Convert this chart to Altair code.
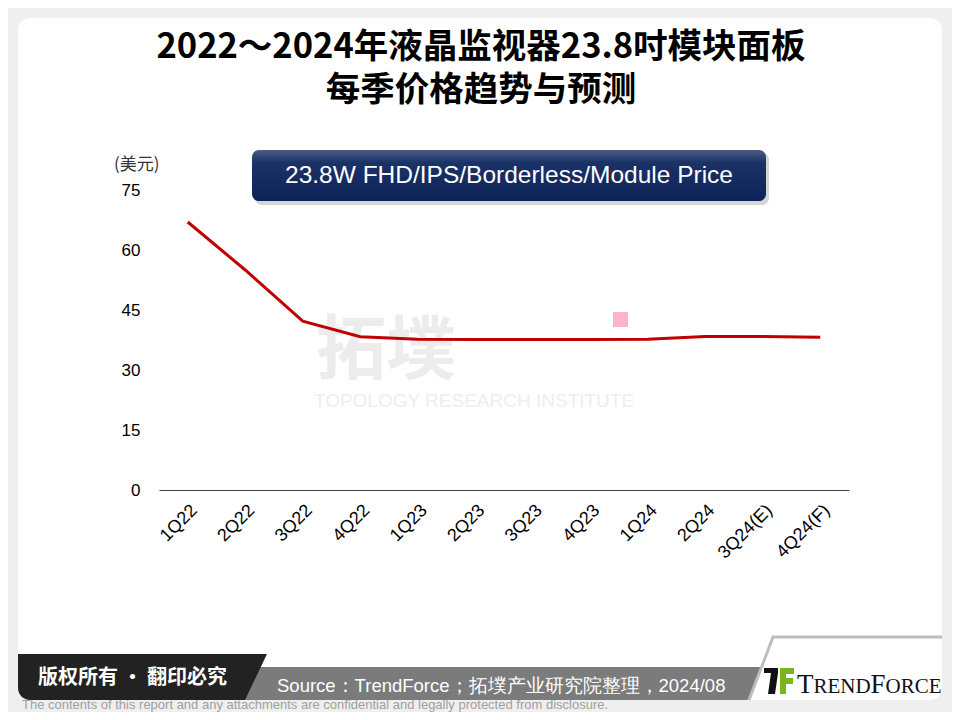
import math
import altair as alt
import pandas as pd

# ---------------- data ----------------
quarters = ["1Q22", "2Q22", "3Q22", "4Q22", "1Q23", "2Q23", "3Q23", "4Q23",
            "1Q24", "2Q24", "3Q24(E)", "4Q24(F)"]
prices = [67.0, 55.0, 42.2, 38.3, 37.7, 37.6, 37.6, 37.6, 37.7, 38.4, 38.4, 38.2]
y_ticks = [0, 15, 30, 45, 60, 75]

title_lines = ["2022～2024年液晶监视器23.8吋模块面板", "每季价格趋势与预测"]
series_label = "23.8W FHD/IPS/Borderless/Module Price"
unit_label = "(美元)"
copyright_text = "版权所有 · 翻印必究"
source_text = "Source：TrendForce；拓墣产业研究院整理，2024/08"
disclaimer = "The contents of this report and any attachments are confidential and legally protected from disclosure."
wm_cn = "拓墣"
wm_en = "TOPOLOGY RESEARCH INSTITUTE"

df = pd.DataFrame({"quarter": quarters, "price": prices})

# ---------------- geometry (page px) ----------------
PL, PT, W, H = 159, 190, 690, 300
one = pd.DataFrame({"k": [0]})


def px(x):
    return x - PL


def py(y):
    return y - PT


def rect(x1, y1, x2, y2, **kw):
    return alt.Chart(one).mark_rect(**kw).encode(
        x=alt.value(px(x1)), x2=alt.value(px(x2)),
        y=alt.value(py(y1)), y2=alt.value(py(y2)))


def text(s, x, y, **kw):
    return alt.Chart(one).mark_text(text=s, **kw).encode(
        x=alt.value(px(x)), y=alt.value(py(y)))


def poly(points, color, closed=True, filled=True, sw=0):
    xs = [p[0] for p in points]
    ys = [p[1] for p in points]
    cx = (min(xs) + max(xs)) / 2
    cy = (min(ys) + max(ys)) / 2
    s = max(max(xs) - min(xs), max(ys) - min(ys)) / 2 + 1
    path = "M" + " L".join(f"{(x - cx) / s:.4f},{(y - cy) / s:.4f}" for x, y in points)
    if closed:
        path += " Z"
    kw = dict(shape=path, size=(2 * s) ** 2, opacity=1, filled=filled, color=color)
    if filled:
        kw["strokeWidth"] = 0
    else:
        kw["strokeWidth"] = sw
    return alt.Chart(one).mark_point(**kw).encode(
        x=alt.value(px(cx)), y=alt.value(py(cy)))


# card
card = rect(18, 18, 942, 700, color="white", cornerRadius=12)

# footer grey band
band = poly([(235, 667), (762, 667), (749, 700), (228, 700)], "#7b7b7b")

# dark copyright box with rounded bottom-left corner
dark_pts = [(18, 654), (267, 654), (245, 700), (30, 700)]
for i in range(1, 8):
    a = math.pi / 2 + i * (math.pi / 2) / 8
    dark_pts.append((30 + 12 * math.cos(a), 688 + 12 * math.sin(a)))
dark_pts.append((18, 688))
dark = poly(dark_pts, "#222222")

# logo frame line
frame = poly([(749, 700), (773, 637), (942, 637)], "#bdbdbd", closed=False, filled=False, sw=3)

copy_txt = text(copyright_text, 38, 678, color="white", fontSize=20, font="Noto Sans CJK SC",
                fontWeight="bold", align="left", baseline="middle")
src_txt = text(source_text, 277, 686, color="white", fontSize=18.5, font="Liberation Sans",
               align="left", baseline="middle")
disc_txt = text(disclaimer, 22, 708.5, color="#a0a0a0", fontSize=13, font="Liberation Sans",
                align="left", baseline="alphabetic")

# logo icon
green = "#7ab51d"
logo = [
    rect(764, 668, 778, 673, color="#111111"),
    poly([(771, 673), (778, 673), (775, 694), (768, 694)], "#111111"),
    rect(780, 668, 794, 674, color=green),
    rect(780, 678, 793, 684, color=green),
    rect(780, 668, 786, 694, color=green),
]
serif = "Liberation Serif"
logo_txt = [
    text("T", 797, 693, font=serif, fontSize=27, color="#111111", align="left", baseline="alphabetic"),
    text("REND", 813.5, 693, font=serif, fontSize=21, color="#111111", align="left", baseline="alphabetic"),
    text("F", 870.5, 693, font=serif, fontSize=27, color="#111111", align="left", baseline="alphabetic"),
    text("ORCE", 885.5, 693, font=serif, fontSize=21, color="#111111", align="left", baseline="alphabetic"),
]

# watermark
wm1 = text(wm_cn, 386, 353, font="Noto Sans CJK SC", fontWeight="bold", fontSize=70,
           color="#ececec", align="center", baseline="middle")
wm2 = text(wm_en, 474, 401, font="Liberation Sans", fontSize=19, color="#eeeeee",
           align="center", baseline="middle")
pink = rect(613, 312, 628, 327, color="#ffb3c8")

# title (one two-line text; first line placed at y)
title = text(title_lines, 481, 48, font="Noto Sans CJK SC", fontWeight="bold", fontSize=34.5,
             lineHeight=43, color="black", align="center", baseline="middle")

# legend box
grad = alt.LinearGradient(
    gradient="linear", x1=0, x2=0, y1=0, y2=1,
    stops=[alt.GradientStop(color="#4a5c85", offset=0),
           alt.GradientStop(color="#1b3266", offset=0.25),
           alt.GradientStop(color="#0e2358", offset=1)])
leg_shadow = rect(255, 153, 769, 205, color="#888888", opacity=0.35, cornerRadius=7)
leg_box = rect(252, 150, 766, 201, color=grad, cornerRadius=7)
leg_txt = text(series_label, 509, 176, font="Liberation Sans", fontSize=24.5, color="white",
               align="center", baseline="middle")

unit = text(unit_label, 114, 165, font="Noto Sans CJK SC", fontSize=17, color="#333333",
            align="left", baseline="middle")

# data line
line = alt.Chart(df).mark_line(color="#c00000", strokeWidth=3).encode(
    x=alt.X("quarter:N", sort=quarters, title=None,
            axis=alt.Axis(labelAngle=-45, labelAlign="right", labelBaseline="top",
                          labelFontSize=18, labelFont="Liberation Sans", labelColor="black",
                          ticks=False, domain=True, domainColor="#404040", domainWidth=1,
                          labelPadding=11, grid=False, zindex=1)),
    y=alt.Y("price:Q", scale=alt.Scale(domain=[0, 75], nice=False), title=None,
            axis=alt.Axis(values=y_ticks, domain=False, ticks=False, grid=False,
                          labelFontSize=17, labelFont="Liberation Sans", labelColor="black",
                          labelPadding=19, zindex=1)),
)

chart = alt.layer(
    card, band, dark, frame, copy_txt, src_txt, disc_txt, *logo, *logo_txt,
    wm1, wm2, pink, title, leg_shadow, leg_box, leg_txt, unit, line
).properties(
    width=W, height=H,
    autosize=alt.AutoSizeParams(type="none"),
    padding={"left": 151, "top": 182, "right": 103, "bottom": 222},
    background="#efefef",
).configure_view(stroke=None)

chart.save("out.html", embed_options={"renderer": "svg", "actions": False})
